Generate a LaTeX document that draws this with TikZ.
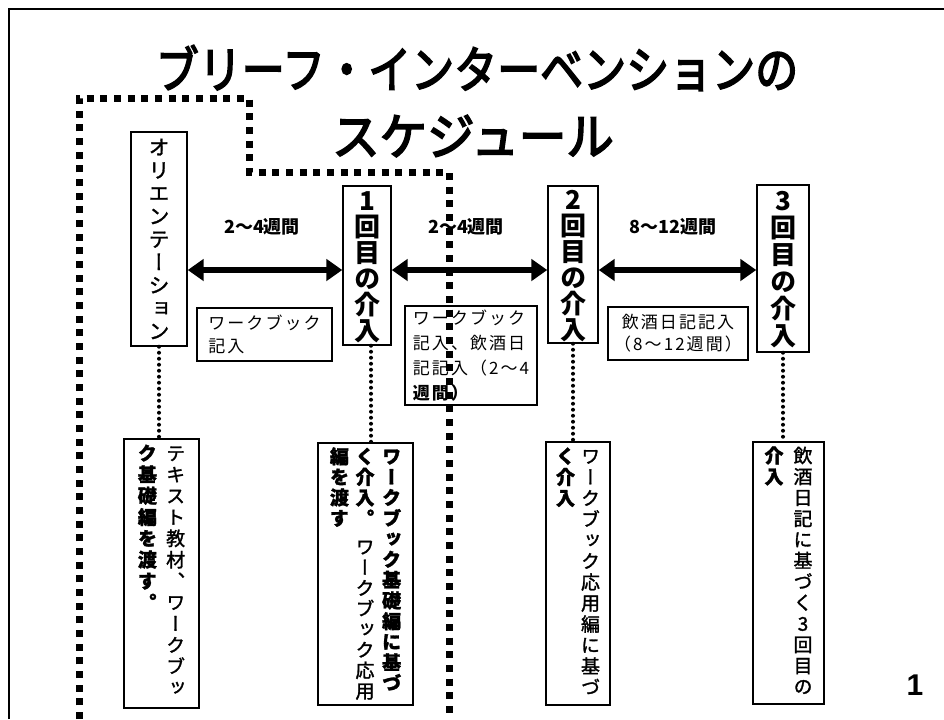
\documentclass[tikz,border=0pt]{standalone}
\usepackage{fontspec}
\usepackage{graphicx}
\usetikzlibrary{arrows.meta}
\newfontfamily\jp{Noto Sans CJK JP}
\newfontfamily\jptitle[FakeBold=3.5]{Noto Sans CJK JP}
\newfontfamily\jpv[RawFeature=+vert]{Noto Sans CJK JP}
\newfontfamily\jpvm[RawFeature=+vert,FakeBold=1.5]{Noto Sans CJK JP}
\newfontfamily\jpsp[LetterSpace=12]{Noto Sans CJK JP}
\newfontfamily\numfont{Liberation Sans}
\newlength\px \setlength\px{0.75pt}
\newlength\vpitch
\makeatletter
\newcommand\vchars[1]{\@tfor\vch:=#1\do{\hbox to \vpitch{\hss\vbox to \vpitch{\vss\hbox{\vch\vrule height .88em depth .12em width 0pt}\vss}\hss}}}
\makeatother
\newcommand\vcol[1]{\vtop{\offinterlineskip\vchars{#1}}}
\tikzset{
  frameline/.style={line width=1.9pt},
  vb/.style={draw, line width=1.1pt, fill=white, inner sep=0pt},
  hb/.style={draw, line width=1.1pt, fill=white, inner sep=0pt},
  arr/.style={line width=4.5pt, {Triangle[length=12pt,width=16pt]}-{Triangle[length=12pt,width=16pt]}},
  bigdot/.style={line width=5.25pt, dash pattern=on 5.25pt off 5pt},
  smalldot/.style={line width=3pt, line cap=round, dash pattern=on 0pt off 4.5pt},
  wklabel/.style={font=\fontsize{13.5pt}{13.5pt}\selectfont\jp\bfseries, inner sep=0pt},
  lowtext/.style={font=\fontsize{14.25pt}{14.25pt}\selectfont\jpvm},
}
\begin{document}
\begin{tikzpicture}[x=0.75pt,y=-0.75pt]
\useasboundingbox (0,0) rectangle (944,719);
\fill[white] (0,0) rectangle (944,719);
% page frame
\draw[frameline] (9,719) -- (9,9) -- (944,9);
% title
\node[inner sep=0pt] (t1) at (477,68) {\fontsize{37.5pt}{37.5pt}\selectfont\jptitle\scalebox{0.86}[1]{ブリーフ・インターベンションの}};
\node[inner sep=0pt] (t2) at (473,136) {\fontsize{37.5pt}{37.5pt}\selectfont\jptitle\scalebox{0.95}[1]{スケジュール}};
% top row vertical boxes
\node[vb, minimum width=56\px, minimum height=214\px, font=\fontsize{15.75pt}{15.75pt}\selectfont\jpvm] (orient) at (159,239) {\setlength\vpitch{23\px}\vcol{オリエンテーション}};
\node[vb, minimum width=48\px, minimum height=159\px, font=\fontsize{19.5pt}{19.5pt}\selectfont\jpv\bfseries] (b1) at (367,265.5) {\setlength\vpitch{26\px}\vcol{1回目の介入}};
\node[vb, minimum width=50\px, minimum height=157\px, font=\fontsize{19.5pt}{19.5pt}\selectfont\jpv\bfseries] (b2) at (573,264.5) {\setlength\vpitch{26\px}\vcol{2回目の介入}};
\node[vb, minimum width=52\px, minimum height=167\px, font=\fontsize{19.5pt}{19.5pt}\selectfont\jpv\bfseries] (b3) at (783,268.5) {\setlength\vpitch{27\px}\vcol{3回目の介入}};
% arrow labels
\node[wklabel] (l1) at (262,227) {2〜4週間};
\node[wklabel] (l2) at (466,227) {2〜4週間};
\node[wklabel] (l3) at (673,227) {8〜12週間};
% arrows
\coordinate (ay) at (0,270);
\draw[arr] (orient.east |- ay) -- (b1.west |- ay);
\draw[arr] (b1.east |- ay) -- (b2.west |- ay);
\draw[arr] (b2.east |- ay) -- (b3.west |- ay);
% small horizontal boxes
\node[hb, minimum width=135\px, minimum height=53\px, align=left, font=\fontsize{12.75pt}{17.25pt}\selectfont\jpsp] (n1) at (264.5,334.5) {ワークブック\\記入};
\node[hb, minimum width=132\px, minimum height=99\px, align=left, font=\fontsize{12.75pt}{18.75pt}\selectfont\jpsp] (n2) at (471,355.5) {ワークブック\\記入、飲酒日\\記記入（2〜4\\{\bfseries 週間）}};
\node[hb, minimum width=140\px, minimum height=53\px, align=center, font=\fontsize{12.75pt}{16.5pt}\selectfont\jpsp] (n3) at (678,333.5) {飲酒日記記入\\（8〜12週間）};
% lower vertical boxes
\node[vb, lowtext, minimum width=75\px, minimum height=269\px] (A) at (161.5,573.5) {\setlength\vpitch{21.3\px}\vbox to 262\px{\hbox{{\bfseries\vcol{ク基礎編を渡す。}}\kern7\px\vcol{テキスト教材、ワークブッ}}\vss}};
\node[vb, lowtext, minimum width=95\px, minimum height=262\px] (B) at (365.5,574) {\setlength\vpitch{20.6\px}\vbox to 256\px{\hbox{{\bfseries\vcol{編を渡す}}\kern5\px\vtop{\offinterlineskip{\bfseries\vchars{く介入。}}\kern8\px\vchars{ワークブック応用}}\kern6\px{\bfseries\vcol{ワークブック基礎編に基づ}}}\vss}};
\node[vb, lowtext, minimum width=64\px, minimum height=263\px] (C) at (578,573.5) {\setlength\vpitch{21\px}\vbox to 256\px{\hbox{{\bfseries\vcol{く介入}}\kern4\px\vcol{ワークブック応用編に基づ}}\vss}};
\node[vb, lowtext, minimum width=71\px, minimum height=262\px] (D) at (788.5,573) {\setlength\vpitch{21\px}\vbox to 256\px{\hbox{{\bfseries\vcol{介入}}\kern8\px\vcol{飲酒日記に基づく3回目の}}\vss}};
% dotted connectors
\draw[smalldot] (orient.south) -- (orient.south |- A.north);
\draw[smalldot] ([xshift=3]b1.south) -- ([xshift=3]b1.south |- B.north);
\draw[smalldot] (b2.south) -- (b2.south |- C.north);
\draw[smalldot] (b3.south) -- (b3.south |- D.north);
% big dotted boundary
\draw[bigdot] (79,719) -- (79,98) -- (249,98) -- (249,172) -- (449,172) -- (449,719);
% page number
\node[inner sep=0pt] (pg) at (915,685) {\fontsize{22.5pt}{22.5pt}\selectfont\numfont\bfseries 1};
\end{tikzpicture}
\end{document}
